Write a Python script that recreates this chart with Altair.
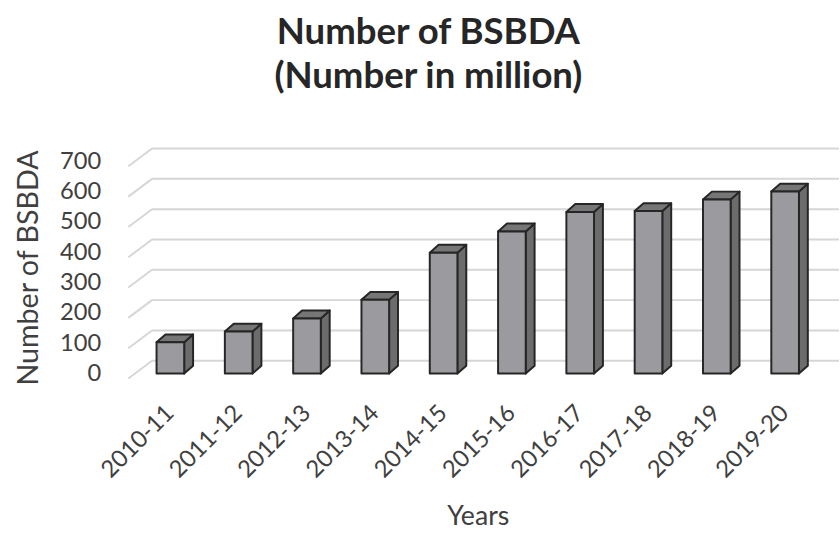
import altair as alt
import pandas as pd

# ---- data ----
years = ["2010-11", "2011-12", "2012-13", "2013-14", "2014-15",
         "2015-16", "2016-17", "2017-18", "2018-19", "2019-20"]
values = [103.2, 138.5, 182.1, 243.3, 398.9, 469.0, 533.0, 536.0, 574.2, 600.4]
tick_values = [0, 100, 200, 300, 400, 500, 600, 700]

# ---- geometry / style ----
W, H = 692, 215
YMAX = 700
FACE_HALF = 14      # half width of the bar front face (px)
DX, DY = 9, 8       # bar depth (px)
FRONT = "#9b9b9f"
SIDE = "#6c6c6c"
TOP = "#767676"
EDGE = "#262626"
GRID = "#d6d6d6"
TXT = "#404040"
FONT = "Lato"

bars = pd.DataFrame({"year": years, "v": values})
ticks = pd.DataFrame({"tick": tick_values})

x_enc = alt.X("year:N", sort=years,
              scale=alt.Scale(paddingInner=0, paddingOuter=0),
              axis=alt.Axis(title="Years", labelAngle=315, labelAlign="right",
                            labelBaseline="middle", labelPadding=36, tickSize=0,
                            ticks=False, domain=False, grid=False,
                            labelFontSize=24, titleFontSize=27,
                            titleFontWeight="normal", titlePadding=22,
                            labelColor=TXT, titleColor=TXT, labelFont=FONT,
                            titleFont=FONT))
y_scale = alt.Scale(domain=[0, YMAX], nice=False, zero=True)
y_axis = alt.Axis(title="Number of BSBDA", values=tick_values, ticks=False,
                  tickSize=0, domain=False, grid=False, labelPadding=36,
                  labelFontSize=24, titleFontSize=29, titleFontWeight="normal",
                  titlePadding=16, labelColor=TXT, titleColor=TXT,
                  labelFont=FONT, titleFont=FONT)

# back-wall gridlines
grid_back = alt.Chart(ticks).mark_rule(color=GRID, strokeWidth=2, yOffset=-13).encode(
    y=alt.Y("tick:Q", scale=y_scale, axis=y_axis),
    x=alt.value(16), x2=alt.value(W + 20))

# floor / side-wall diagonals of the gridlines
grid_diag = alt.Chart(ticks).mark_rule(color=GRID, strokeWidth=2,
                                        yOffset=5, y2Offset=-13).encode(
    y=alt.Y("tick:Q", scale=y_scale, axis=y_axis),
    y2="tick:Q",
    x=alt.value(-8), x2=alt.value(16))

# side face of each bar (parallelogram as a custom symbol)
side_expr = ("'M{a},0L{b},{c}L{b},' + ({c} + datum.v * {k}) + 'L{a},' + "
             "(datum.v * {k}) + 'Z'").format(a=FACE_HALF, b=FACE_HALF + DX,
                                              c=-DY, k=H / YMAX)
side = alt.Chart(bars).transform_calculate(side=side_expr).mark_point(
    filled=True, size=4, opacity=1, fill=SIDE, stroke=EDGE, strokeWidth=2,
    strokeJoin="round").encode(
    x=x_enc, y=alt.Y("v:Q", scale=y_scale, axis=y_axis),
    shape=alt.Shape("side:N", scale=None, legend=None))

# top face of each bar
top_path = "M{n},0L{m},{c}L{b},{c}L{a},0Z".format(
    n=-FACE_HALF, m=-FACE_HALF + DX, c=-DY, b=FACE_HALF + DX, a=FACE_HALF)
top = alt.Chart(bars).mark_point(
    shape=top_path, filled=True, size=4, opacity=1, fill=TOP, stroke=EDGE,
    strokeWidth=2, strokeJoin="round").encode(
    x=x_enc, y=alt.Y("v:Q", scale=y_scale, axis=y_axis))

# front face
front = alt.Chart(bars).mark_bar(width=2 * FACE_HALF, color=FRONT, stroke=EDGE,
                                  strokeWidth=2, strokeJoin="round").encode(
    x=x_enc, y=alt.Y("v:Q", scale=y_scale, axis=y_axis))

chart = alt.layer(grid_back, grid_diag, side, top, front).properties(
    width=W, height=H,
    padding={"left": 15, "top": 11, "right": 0, "bottom": 0},
    title=alt.TitleParams(["Number of BSBDA", "(Number in million)"],
                          fontSize=37, font=FONT, fontWeight="bold",
                          color="#262626", lineHeight=45, anchor="middle",
                          dx=-50, offset=52),
).configure_view(stroke=None)

chart.save("out.html", embed_options={"renderer": "svg", "actions": False})
